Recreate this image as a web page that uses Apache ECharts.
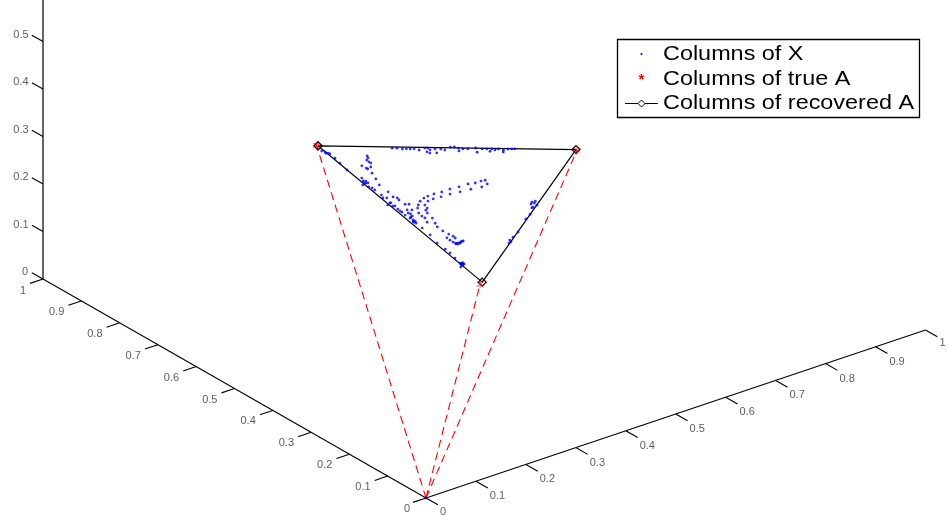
<!DOCTYPE html>
<html>
<head>
<meta charset="utf-8">
<style>html,body{margin:0;padding:0;background:#fff}#c{width:948px;height:520px}</style>
<script src="https://cdn.jsdelivr.net/npm/echarts@6/dist/echarts.min.js"></script>
</head>
<body>
<div id="c"></div>
<script>
// Axis ticks
const tickValues = [0, 0.1, 0.2, 0.3, 0.4, 0.5, 0.6, 0.7, 0.8, 0.9, 1];
const zTickValues = [0, 0.1, 0.2, 0.3, 0.4, 0.5];
const zAxisTop = 0.6;
const legendNames = ['Columns of X', 'Columns of true A', 'Columns of recovered A'];

// Columns of true A and recovered A, [x, y, z]
const trueA = [[0.077, 0.386, 0.537], [0.356, 0.070, 0.574], [0.464, 0.464, 0.072]];
const recoveredA = [[0.079, 0.385, 0.536], [0.354, 0.070, 0.576], [0.463, 0.457, 0.080]];

// Columns of X, [x, y, z], grouped by the visible strands
const xOrigin = [[0, 0, 0]];
const xNearCorner = [[.091,.391,.518],[.096,.389,.515],[.099,.390,.511],[.101,.387,.512],[.104,.387,.509],[.116,.389,.495],[.129,.393,.478],[.147,.398,.455]];
const xLeftStrand = [
[.146,.344,.510],[.150,.347,.503],[.152,.353,.495],[.157,.354,.489],[.161,.354,.485],[.156,.371,.473],[.164,.370,.466],[.167,.370,.463],[.167,.362,.471],[.178,.373,.449],
[.191,.380,.429],[.204,.388,.408],[.175,.396,.429],[.181,.400,.419],[.187,.401,.412],[.189,.398,.413],[.187,.409,.404],[.196,.405,.399],[.201,.403,.396],[.207,.404,.389],
[.222,.406,.372],[.224,.391,.385],[.228,.410,.362],[.232,.405,.363],[.244,.410,.346],[.237,.395,.368],[.243,.392,.365],[.248,.394,.358],[.244,.418,.338],[.251,.414,.335],
[.261,.414,.325],[.270,.415,.315],[.261,.395,.344],[.265,.390,.345],[.272,.404,.324],[.277,.398,.325],[.278,.409,.313],[.287,.410,.303],[.294,.417,.289],[.302,.420,.278],
[.288,.417,.295],[.298,.420,.282],[.243,.411,.346],[.253,.411,.336],[.266,.415,.319],[.278,.417,.305],[.316,.422,.262],[.335,.426,.239],[.355,.434,.211],[.373,.436,.191],
[.384,.438,.178],[.397,.442,.161],[.410,.446,.144],[.415,.448,.137],[.413,.442,.145],[.417,.453,.130],
[.413,.447,.140],[.416,.446,.138],[.416,.443,.141],[.412,.443,.145],[.287,.414,.299],[.297,.421,.282],[.298,.417,.285],[.282,.408,.310],[.185,.403,.412],[.184,.397,.419]];
const xCurve = [
[.307,.246,.447],[.304,.253,.443],[.315,.251,.434],[.301,.264,.435],[.295,.275,.430],[.314,.264,.422],[.306,.282,.412],[.290,.292,.418],[.299,.301,.400],[.284,.308,.408],
[.292,.318,.390],[.280,.324,.396],[.287,.335,.378],[.275,.338,.387],[.282,.349,.369],[.272,.350,.378],[.271,.359,.370],[.280,.360,.360],[.272,.370,.358],[.283,.372,.345],
[.276,.380,.344],[.280,.387,.333],[.290,.375,.335],[.289,.396,.315],[.298,.385,.317],[.297,.398,.305],[.303,.398,.299],[.312,.404,.284],[.311,.389,.300],[.322,.396,.282],
[.330,.401,.269],[.342,.402,.256],[.353,.401,.246],[.357,.411,.232],[.361,.400,.239],[.366,.401,.233],[.364,.412,.224],[.370,.412,.218],[.376,.412,.212],[.378,.410,.212],
[.378,.402,.220],[.379,.397,.224],[.378,.406,.216],[.292,.381,.327],
[.376,.409,.215],[.379,.405,.216],[.378,.399,.223],[.374,.411,.215]];
const xTopEdge = [
[.160,.297,.543],[.165,.291,.544],[.172,.286,.542],[.176,.281,.543],[.180,.276,.544],[.184,.271,.545],[.191,.267,.542],[.194,.256,.550],[.197,.252,.551],[.202,.253,.545],
[.202,.261,.537],[.207,.260,.533],[.214,.251,.535],[.206,.245,.549],[.212,.238,.550],[.218,.235,.547],[.219,.222,.559],[.223,.217,.560],[.229,.214,.557],[.234,.219,.547],
[.235,.210,.555],[.240,.204,.556],[.247,.192,.561],[.255,.199,.546],[.255,.186,.559],[.260,.180,.560],[.267,.181,.552],[.265,.174,.561],[.270,.172,.558],[.272,.166,.562],
[.279,.162,.559],[.282,.166,.552],[.282,.154,.564],[.286,.149,.565],[.289,.145,.566]];
const xRightEdge = [
[.390,.232,.378],[.394,.231,.375],[.400,.232,.368],[.399,.241,.360],[.399,.244,.357],[.407,.259,.334],[.410,.274,.316],[.422,.310,.268],[.425,.327,.248],[.430,.339,.231],[.430,.344,.226],
[.392,.226,.382],[.392,.237,.371],[.426,.337,.237]];
const columnsOfX = [].concat(xOrigin, xNearCorner, xLeftStrand, xCurve, xTopEdge, xRightEdge);

// Orthographic view of the 3-D box
const view = {ox: 426, oy: 498, ax: 499.5, ay: -168, bx: -383, by: -219, cy: -475};
function project(p) {
  return [view.ox + view.ax * p[0] + view.bx * p[1],
          view.oy + view.ay * p[0] + view.by * p[1] + view.cy * p[2]];
}
const gap = [NaN, NaN];
function tickSegments(values, from, to) {
  const out = [];
  values.forEach(function (v) { out.push(project(from(v)), project(to(v)), gap); });
  return out;
}
const aTicks = tickSegments(tickValues, v => [v, 0, 0], v => [v, -0.031, 0]);
const bTicks = tickSegments(tickValues, v => [0, v, 0], v => [-0.026, v, 0]);
const cTicks = tickSegments(zTickValues, v => [0, 1, v], v => [0, 1.029, v]);

function labelData(values, at, wide, edge) {
  return values.map(function (v) {
    const isEdge = (v === 0 || v === 1);
    return {
      value: project(at(v)),
      label: {show: true, formatter: String(v), offset: isEdge ? edge(v) : wide}
    };
  });
}
const baseStyle = {color: '#000', width: 1.1};
function axisLine(name, pts, style) {
  return {name: name, type: 'line', data: pts, symbol: 'none', silent: true, animation: false,
          connectNulls: false, lineStyle: style || baseStyle, z: 2};
}
function labelSeries(name, data) {
  return {name: name, type: 'scatter', data: data, symbolSize: 1, silent: true,
          itemStyle: {color: 'rgba(0,0,0,0)'},
          label: {show: true, position: 'inside', color: '#333', fontSize: 11,
                  fontFamily: 'Liberation Sans', align: 'center', verticalAlign: 'middle'}, z: 3};
}
const dashed = trueA.reduce(function (acc, p) {
  acc.push(project([0, 0, 0]), project(p), gap); return acc;
}, []);
const asterisk = 'path://M4.4 0H5.6V10H4.4Z M0 2.2L0.6 1.2L10 7.8L9.4 8.8Z M0 7.8L0.6 8.8L10 2.2L9.4 1.2Z';
const legendRows = [54, 79, 103.5];

const chart = echarts.init(document.getElementById('c'), null, {renderer: 'canvas'});
chart.setOption({
  animation: false,
  backgroundColor: '#fff',
  grid: {left: 0, right: 0, top: 0, bottom: 0},
  xAxis: {type: 'value', min: 0, max: 948, show: false},
  yAxis: {type: 'value', min: 0, max: 520, inverse: true, show: false},
  tooltip: {show: false},
  graphic: [
    {type: 'rect', z: 99, shape: {x: 617.5, y: 39.5, width: 302, height: 78}, style: {fill: '#fff', stroke: '#000', lineWidth: 1.3}},
    {type: 'circle', z: 100, shape: {cx: 641.5, cy: legendRows[0], r: 1.1}, style: {fill: '#00f'}},
    {type: 'text', z: 100, x: 641.5, y: legendRows[1] + 1, style: {text: '*', fill: '#f00', font: 'bold 15px Liberation Sans', align: 'center', verticalAlign: 'middle'}},
    {type: 'line', z: 100, shape: {x1: 625, y1: legendRows[2], x2: 658, y2: legendRows[2]}, style: {stroke: '#000', lineWidth: 1}},
    {type: 'polygon', z: 101, shape: {points: [[641.5, legendRows[2] - 3.5], [645, legendRows[2]], [641.5, legendRows[2] + 3.5], [638, legendRows[2]]]}, style: {fill: '#fff', stroke: '#000', lineWidth: 1}}
  ].concat(legendNames.map(function (name, i) {
    return {type: 'text', z: 100, x: 663, y: legendRows[i], scaleX: 1.17,
            style: {text: name, fill: '#000', font: '20px Liberation Sans', verticalAlign: 'middle'}};
  })),
  series: [
    axisLine('x axis', [project([0, 0, 0]), project([1, 0, 0])]),
    axisLine('y axis', [project([0, 0, 0]), project([0, 1, 0])]),
    axisLine('z axis', [project([0, 1, 0]), project([0, 1, zAxisTop])], {color: '#333', width: 1.5}),
    axisLine('x ticks', aTicks),
    axisLine('y ticks', bTicks),
    axisLine('z ticks', cTicks),
    labelSeries('x tick labels', labelData(tickValues, v => [v, 0, 0], [21.5, 15], v => v === 0 ? [17, 14] : [17, 13])),
    labelSeries('y tick labels', labelData(tickValues, v => [0, v, 0], [-24.7, 11], v => v === 0 ? [-19, 11] : [-20, 12])),
    labelSeries('z tick labels', labelData(zTickValues, v => [0, 1, v], [-22, -7], v => [-18, -7.5])),
    {name: 'origin rays', type: 'line', data: dashed, symbol: 'none', silent: true, connectNulls: false,
     lineStyle: {color: '#f00', width: 1.1, type: [8, 5]}, z: 4},
    {name: legendNames[2], type: 'line', data: recoveredA.concat([recoveredA[0]]).map(project),
     symbol: 'diamond', symbolSize: 8, showSymbol: true, silent: true,
     itemStyle: {color: 'rgba(255,255,255,0)', borderColor: '#000', borderWidth: 1.2},
     lineStyle: {color: '#000', width: 1.2}, z: 5},
    {name: legendNames[1], type: 'scatter', data: trueA.map(project), symbol: asterisk, symbolSize: 7,
     silent: true, itemStyle: {color: '#f00'}, z: 6},
    {name: legendNames[0], type: 'scatter', data: columnsOfX.map(project), symbol: 'circle', symbolSize: 2.8,
     silent: true, itemStyle: {color: '#00f'}, z: 7}
  ]
});
</script>
</body>
</html>
